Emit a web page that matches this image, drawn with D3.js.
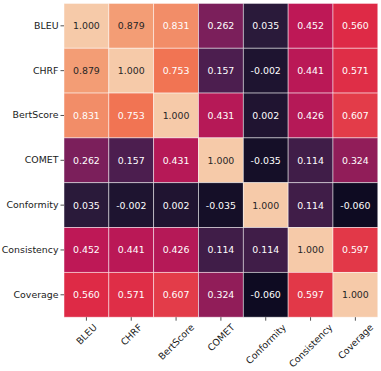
<!DOCTYPE html>
<html>
<head>
<meta charset="utf-8">
<script src="https://cdn.jsdelivr.net/npm/d3@7"></script>
<style>
  body { margin: 0; background: #fff; }
  text { font-family: "DejaVu Sans", sans-serif; }
</style>
</head>
<body>
<script>
// Metric names (rows and columns are the same)
const metrics = ["BLEU", "CHRF", "BertScore", "COMET", "Conformity", "Consistency", "Coverage"];

// Correlation rows
const bleu        = [1.000, 0.879, 0.831, 0.262, 0.035, 0.452, 0.560];
const chrf        = [0.879, 1.000, 0.753, 0.157, -0.002, 0.441, 0.571];
const bertScore   = [0.831, 0.753, 1.000, 0.431, 0.002, 0.426, 0.607];
const comet       = [0.262, 0.157, 0.431, 1.000, -0.035, 0.114, 0.324];
const conformity  = [0.035, -0.002, 0.002, -0.035, 1.000, 0.114, -0.060];
const consistency = [0.452, 0.441, 0.426, 0.114, 0.114, 1.000, 0.597];
const coverage    = [0.560, 0.571, 0.607, 0.324, -0.060, 0.597, 1.000];

const rows = [bleu, chrf, bertScore, comet, conformity, consistency, coverage];

const width = 381, height = 371;
const margin = { top: 3.4, right: 3.2, bottom: 54, left: 64 };

const svg = d3.select("body").append("svg")
    .attr("width", width)
    .attr("height", height);

const x = d3.scaleBand()
    .domain(metrics)
    .range([margin.left, width - margin.right]);

const y = d3.scaleBand()
    .domain(metrics)
    .range([margin.top, margin.top + x.bandwidth() * metrics.length]);

// rocket-like colour ramp, as it looks in the picture
const color = d3.scaleLinear()
    .domain([-0.060, 0.000, 0.040, 0.160, 0.260, 0.450, 0.560, 0.750, 0.880, 1.000])
    .range(["#0e0b22", "#1f1430", "#2b1b3b", "#4d1e50", "#7a1f5b", "#bd1856", "#de2a46", "#f17352", "#f39d75", "#f6caa9"])
    .clamp(true);

function textColor(c) {
    const rgb = d3.rgb(c);
    const lin = v => { v /= 255; return v <= 0.03928 ? v / 12.92 : Math.pow((v + 0.055) / 1.055, 2.4); };
    const lum = 0.2126 * lin(rgb.r) + 0.7152 * lin(rgb.g) + 0.0722 * lin(rgb.b);
    return lum > 0.408 ? "#262626" : "#ffffff";
}

const cells = [];
rows.forEach((vals, i) => {
    vals.forEach((v, j) => cells.push({ row: metrics[i], col: metrics[j], value: v }));
});

// Cells
svg.append("g").selectAll("rect")
    .data(cells)
    .join("rect")
    .attr("x", d => x(d.col))
    .attr("y", d => y(d.row))
    .attr("width", x.bandwidth())
    .attr("height", y.bandwidth())
    .attr("fill", d => color(d.value))
    .attr("stroke", "rgba(255,255,255,0.6)")
    .attr("stroke-width", 0.8);

// Annotations
svg.append("g").selectAll("text")
    .data(cells)
    .join("text")
    .attr("x", d => x(d.col) + x.bandwidth() / 2)
    .attr("y", d => y(d.row) + y.bandwidth() / 2)
    .attr("text-anchor", "middle")
    .attr("dominant-baseline", "central")
    .style("font-size", "9.4px")
    .attr("fill", d => textColor(color(d.value)))
    .text(d => d3.format(".3f")(d.value).replace("−", "-"));

// Y axis
const yAxis = svg.append("g")
    .attr("transform", `translate(${margin.left},0)`)
    .call(d3.axisLeft(y).tickSize(3.5).tickPadding(2));
yAxis.select(".domain").remove();
yAxis.selectAll("line").attr("stroke", "#262626").attr("stroke-width", 0.8);
yAxis.selectAll("text")
    .attr("fill", "#1a1a1a")
    .style("font-size", "9.4px")
    .style("font-family", "DejaVu Sans");

// X axis
const gridBottom = y.range()[1];
const xAxis = svg.append("g")
    .attr("transform", `translate(0,${gridBottom})`)
    .call(d3.axisBottom(x).tickSize(3.5));
xAxis.select(".domain").remove();
xAxis.selectAll("line").attr("stroke", "#262626").attr("stroke-width", 0.8);

// rotated x labels, bbox centred on tick, top just below the tick
xAxis.selectAll("text")
    .attr("fill", "#1a1a1a")
    .style("font-size", "9.4px")
    .style("font-family", "DejaVu Sans")
    .attr("dy", null)
    .attr("y", 0)
    .attr("text-anchor", "middle")
    .attr("dominant-baseline", "central")
    .each(function() {
        const w = this.getComputedTextLength();
        const h = 9.4;
        const half = (w + h) * Math.SQRT1_2 / 2;
        d3.select(this).attr("transform", `translate(0,${5 + half}) rotate(-45)`);
    });
</script>
</body>
</html>
